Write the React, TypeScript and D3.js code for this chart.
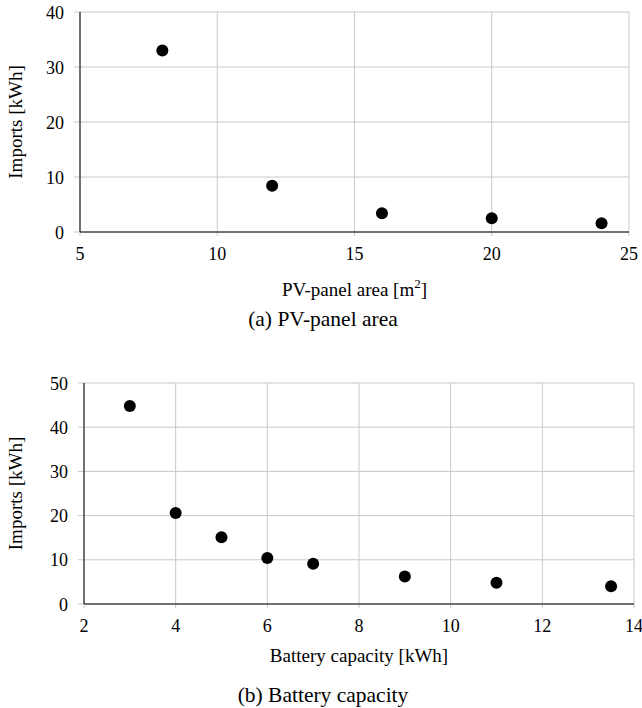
import { useEffect, useRef } from 'react';
import * as d3 from 'd3';

// (a) PV-panel area
const pvArea = [8, 12, 16, 20, 24];
const pvImports = [33.0, 8.4, 3.4, 2.5, 1.6];
const pvXTicks = [5, 10, 15, 20, 25];
const pvYTicks = [0, 10, 20, 30, 40];

// (b) Battery capacity
const batCap = [3, 4, 5, 6, 7, 9, 11, 13.5];
const batImports = [44.8, 20.6, 15.1, 10.4, 9.1, 6.2, 4.8, 4.0];
const batXTicks = [2, 4, 6, 8, 10, 12, 14];
const batYTicks = [0, 10, 20, 30, 40, 50];

const FONT = '"Liberation Serif", "Times New Roman", serif';

const App = () => {
    const ref = useRef<SVGSVGElement>(null);

    useEffect(() => {
        const svg = d3.select(ref.current);
        svg.selectAll('*').remove();

        const panel = (opts) => {
            const { xs, ys, xTicks, yTicks, left, right, top, bottom, xTitle, caption, xTitleY, captionY } = opts;
            const x = d3.scaleLinear().domain(d3.extent(xTicks)).range([left, right]);
            const y = d3.scaleLinear().domain(d3.extent(yTicks)).range([bottom, top]);
            const g = svg.append('g');

            // grid
            g.append('g').selectAll('line').data(xTicks).enter().append('line')
                .attr('x1', d => x(d)).attr('x2', d => x(d))
                .attr('y1', top).attr('y2', bottom + 4)
                .attr('stroke', '#c8c8c8').attr('stroke-width', 1);
            g.append('g').selectAll('line').data(yTicks).enter().append('line')
                .attr('x1', left - 6).attr('x2', right)
                .attr('y1', d => y(d)).attr('y2', d => y(d))
                .attr('stroke', '#c8c8c8').attr('stroke-width', 1);

            // axes
            g.append('line').attr('x1', left).attr('x2', left).attr('y1', top).attr('y2', bottom)
                .attr('stroke', '#000').attr('stroke-width', 1);
            g.append('line').attr('x1', left).attr('x2', right).attr('y1', bottom).attr('y2', bottom)
                .attr('stroke', '#000').attr('stroke-width', 1);

            // tick labels
            g.append('g').selectAll('text').data(xTicks).enter().append('text')
                .attr('x', d => x(d)).attr('y', bottom + 28)
                .attr('text-anchor', 'middle')
                .attr('font-family', FONT).attr('font-size', 18)
                .text(d => d);
            g.append('g').selectAll('text').data(yTicks).enter().append('text')
                .attr('x', left - 16).attr('y', d => y(d) + 6.5)
                .attr('text-anchor', 'end')
                .attr('font-family', FONT).attr('font-size', 18)
                .text(d => d);

            // points
            g.append('g').selectAll('circle').data(xs).enter().append('circle')
                .attr('cx', d => x(d)).attr('cy', (d, i) => y(ys[i]))
                .attr('r', 6).attr('fill', '#000');

            // titles
            const xt = g.append('text').attr('x', (left + right) / 2).attr('y', xTitleY)
                .attr('text-anchor', 'middle')
                .attr('font-family', FONT).attr('font-size', 19);
            xt.text(xTitle.text);
            if (xTitle.sup) {
                xt.append('tspan').attr('dy', -8).attr('font-size', 13).text(xTitle.sup);
                xt.append('tspan').attr('dy', 8).text(']');
            }
            g.append('text')
                .attr('transform', `translate(22,${(top + bottom) / 2}) rotate(-90)`)
                .attr('text-anchor', 'middle')
                .attr('font-family', FONT).attr('font-size', 19)
                .text('Imports [kWh]');
            g.append('text').attr('x', 323).attr('y', captionY)
                .attr('text-anchor', 'middle')
                .attr('font-family', FONT).attr('font-size', 21.5)
                .text(caption);
        };

        panel({
            xs: pvArea, ys: pvImports, xTicks: pvXTicks, yTicks: pvYTicks,
            left: 80, right: 629, top: 12, bottom: 232,
            xTitle: { text: 'PV-panel area [m', sup: '2' },
            caption: '(a) PV-panel area', xTitleY: 296, captionY: 326,
        });
        panel({
            xs: batCap, ys: batImports, xTicks: batXTicks, yTicks: batYTicks,
            left: 84, right: 634, top: 383, bottom: 604,
            xTitle: { text: 'Battery capacity [kWh]' },
            caption: '(b) Battery capacity', xTitleY: 662, captionY: 702,
        });
    }, []);

    return (
        <svg ref={ref} width={642} height={708}
            style={{ position: 'absolute', left: 0, top: 0, background: '#fff' }} />
    );
};

export default App;
